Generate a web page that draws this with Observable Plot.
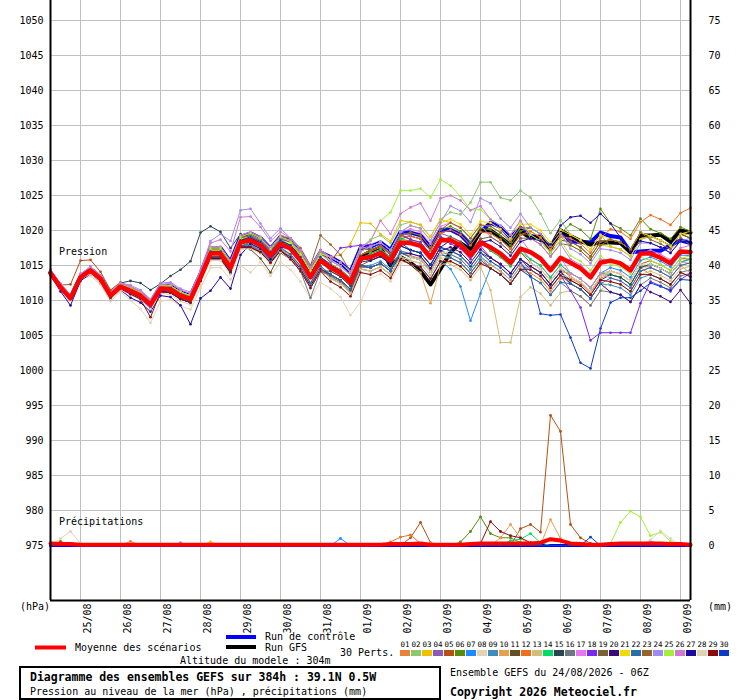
<!DOCTYPE html>
<html><head><meta charset="utf-8">
<script src="https://cdn.jsdelivr.net/npm/d3@7"></script>
<script src="https://cdn.jsdelivr.net/npm/@observablehq/plot@0.6"></script>
<style>body{margin:0;background:#fff}svg{font-family:"DejaVu Sans Mono",monospace}</style>
</head><body><div id="chart"></div>
<script>
// ---- time axis (hours after run 24/08/2026 06Z, 6-hourly) ----
const hours = d3.range(0, 385, 6);
const dayHours = [18,42,66,90,114,138,162,186,210,234,258,282,306,330,354,378];
const dayLabels = ["25/08","26/08","27/08","28/08","29/08","30/08","31/08","01/09","02/09","03/09","04/09","05/09","06/09","07/09","08/09","09/09"];
const pressureTicks = [975,980,985,990,995,1000,1005,1010,1015,1020,1025,1030,1035,1040,1045,1050];
const memberColors = ["#e8823a","#8cc86e","#f0c000","#8c5ab4","#b45014","#5a8c0a","#1e8cff","#e6d2b4","#3c8cbe","#e6a050","#645028","#f06e1e","#d2be78","#00dc64","#284650","#6e7882","#e678f0","#7828f0","#786432","#3c0a78","#f0dc00","#286eaa","#966428","#a08cf0","#a0f03c","#d278d2","#1e0aa0","#e1d2b4","#8c0a0a","#0a3cc8"];

// ---- sea level pressure (hPa) ----
const meanP = [1013.9,1011.9,1010.3,1013.3,1014.3,1013.1,1010.7,1012.0,1011.4,1010.7,1009.4,1011.7,1011.6,1010.7,1010.2,1013.3,
1016.7,1016.7,1014.7,1018.3,1018.6,1017.9,1016.4,1018.1,1017.4,1015.7,1013.3,1015.7,1014.7,1013.9,1012.6,1016.0,
1016.2,1016.8,1015.7,1018.3,1018.2,1017.8,1016.1,1018.6,1018.6,1017.9,1016.4,1018.3,1017.6,1016.7,1015.4,1017.4,
1016.9,1016.0,1014.3,1016.1,1015.4,1014.6,1013.3,1015.4,1015.7,1015.3,1014.3,1016.7,1016.7,1016.1,1015.3,1017.0,1016.9];
const controlP = [1013.9,1011.9,1010.3,1013.3,1014.5,1013.3,1010.9,1012.2,1011.7,1011.0,1009.7,1012.0,1012.1,1011.2,1010.7,1013.8,
1017.5,1017.5,1015.5,1019.1,1019.6,1018.9,1017.4,1019.1,1018.6,1016.9,1014.5,1016.9,1016.2,1015.4,1014.1,1017.5,
1017.7,1018.3,1017.2,1019.8,1019.7,1019.3,1017.6,1020.1,1020.1,1019.4,1017.9,1019.8,1021.1,1020.5,1019.0,1020.4,
1019.2,1019.0,1017.6,1020.0,1018.4,1018.4,1018.3,1019.7,1019.2,1019.0,1016.9,1017.0,1017.1,1017.1,1017.9,1018.6,1018.2];
const gfsP = [1014.0,1012.0,1010.4,1013.4,1014.4,1013.2,1010.8,1012.1,1011.5,1010.8,1009.5,1011.8,1011.7,1010.8,1010.3,1013.4,
1016.9,1016.9,1014.9,1018.5,1018.8,1018.1,1016.6,1018.3,1017.6,1015.9,1013.5,1015.9,1014.9,1014.1,1012.8,1016.2,
1017.0,1017.5,1015.0,1016.2,1015.4,1014.2,1012.3,1014.5,1016.9,1018.2,1017.3,1020.0,1020.0,1019.0,1017.9,1019.9,
1018.9,1019.2,1017.4,1020.0,1019.2,1018.5,1018.0,1018.3,1018.3,1018.2,1016.9,1019.3,1019.3,1019.4,1018.4,1020.0,1019.7];

const p01 = [1013.9,1011.9,1010.3,1013.3,1014.1,1012.9,1010.5,1011.8,1011.1,1010.4,1009.1,1011.4,1011.1,1010.2,1009.7,1012.8,
1016.1,1016.1,1014.1,1017.7,1017.8,1017.1,1015.6,1017.3,1016.4,1014.7,1012.3,1014.7,1013.4,1012.6,1011.3,1014.7,
1014.7,1015.3,1014.2,1016.8,1016.4,1016.0,1014.3,1016.8,1016.6,1015.9,1014.4,1016.3,1014.6,1013.7,1012.4,1014.4,
1013.9,1013.0,1011.3,1013.1,1013.2,1012.4,1011.1,1013.2,1013.7,1013.3,1012.3,1014.7,1013.7,1013.1,1012.3,1014.0,1013.4];
const p02 = [1014.1,1012.1,1010.5,1013.5,1014.6,1013.4,1011.0,1012.3,1011.8,1011.1,1009.8,1012.1,1012.1,1011.2,1010.7,1013.8,
1017.5,1017.5,1015.5,1019.1,1019.6,1018.9,1017.4,1019.1,1018.6,1016.9,1014.5,1016.9,1016.2,1015.4,1014.1,1017.5,
1018.7,1019.3,1018.2,1020.8,1021.2,1020.8,1019.1,1021.6,1022.6,1022.3,1024.0,1026.9,1026.9,1024.7,1024.3,1025.7,
1024.7,1022.4,1019.6,1021.5,1019.4,1018.6,1017.3,1019.4,1017.7,1017.3,1016.3,1018.7,1019.2,1018.6,1017.8,1019.5,1018.9];
const p03 = [1014.2,1012.2,1010.6,1013.6,1014.6,1013.4,1011.0,1012.3,1011.9,1011.2,1009.9,1012.2,1012.1,1011.2,1010.7,1013.8,
1017.2,1017.2,1015.2,1018.8,1019.4,1018.7,1017.2,1018.9,1018.4,1016.7,1014.3,1016.7,1016.2,1016.5,1018.1,1021.1,
1021.0,1019.5,1018.5,1021.4,1021.2,1020.8,1019.1,1021.6,1021.1,1020.4,1018.9,1020.8,1020.6,1019.7,1018.4,1020.4,
1019.9,1019.0,1017.3,1019.1,1017.9,1017.1,1015.8,1017.9,1017.7,1017.3,1016.3,1018.7,1019.2,1018.6,1017.8,1019.5,1019.4];
const p04 = [1014.0,1012.0,1010.4,1013.4,1014.3,1013.1,1010.7,1012.0,1011.6,1010.9,1009.6,1011.9,1011.9,1011.0,1010.5,1013.6,
1017.2,1017.2,1015.2,1018.8,1019.3,1018.6,1017.1,1018.8,1018.4,1016.7,1014.3,1016.7,1015.7,1014.9,1013.6,1017.0,
1017.7,1018.3,1017.2,1019.8,1019.2,1018.8,1017.1,1019.6,1019.1,1018.4,1016.9,1018.8,1017.6,1016.7,1015.4,1017.4,
1015.9,1015.0,1013.3,1015.1,1013.9,1013.1,1011.8,1013.9,1013.7,1013.3,1012.3,1014.7,1015.2,1014.6,1013.8,1015.5,1015.9];
const p05 = [1014.2,1012.2,1012.3,1015.7,1015.8,1014.1,1011.5,1012.6,1011.9,1011.2,1009.9,1012.2,1012.1,1011.2,1010.7,1013.8,
1017.2,1017.2,1015.2,1018.8,1019.6,1018.9,1017.4,1019.1,1018.9,1017.2,1014.8,1017.2,1016.2,1015.4,1014.1,1017.5,
1017.2,1017.8,1016.7,1019.3,1018.7,1018.3,1016.6,1019.1,1018.6,1017.9,1016.4,1018.3,1017.1,1016.2,1014.9,1016.9,
1015.4,1014.5,1012.8,1014.6,1013.4,1012.6,1011.3,1013.4,1014.2,1013.8,1012.8,1015.2,1015.7,1015.1,1014.3,1016.0,1015.9];
const p06 = [1013.9,1011.9,1010.3,1013.3,1014.3,1013.1,1010.7,1012.0,1011.2,1010.5,1009.2,1011.5,1011.3,1010.4,1009.9,1013.0,
1016.2,1016.2,1014.2,1017.8,1018.3,1017.6,1016.1,1017.8,1017.4,1015.7,1013.3,1015.7,1015.2,1014.4,1013.1,1016.5,
1017.2,1017.8,1016.7,1019.3,1019.7,1019.3,1017.6,1020.1,1020.6,1019.9,1018.4,1020.3,1020.1,1019.2,1017.9,1019.9,
1020.4,1019.5,1017.8,1019.6,1020.9,1020.1,1018.8,1023.1,1021.0,1020.3,1019.3,1021.7,1020.2,1019.6,1018.8,1020.5,1019.9];
const p07 = [1013.9,1011.9,1010.3,1013.3,1014.1,1012.9,1010.5,1011.8,1011.1,1010.4,1009.1,1011.4,1011.1,1010.2,1009.7,1012.8,
1015.9,1015.9,1013.9,1017.5,1017.6,1016.9,1015.4,1017.1,1016.2,1014.5,1012.1,1014.5,1013.2,1012.4,1011.1,1014.5,
1014.2,1014.8,1013.7,1016.3,1015.2,1014.8,1013.1,1015.6,1014.5,1012.0,1007.1,1011.0,1014.6,1013.7,1012.4,1014.4,
1014.9,1014.0,1012.3,1014.1,1013.9,1013.1,1011.8,1013.9,1014.7,1014.3,1013.3,1015.7,1016.2,1015.6,1014.8,1016.5,1016.4];
const p08 = [1013.6,1011.6,1010.0,1013.0,1013.5,1012.3,1009.9,1011.2,1010.0,1008.8,1006.8,1009.9,1010.1,1009.2,1008.7,1011.8,
1014.7,1014.7,1013.0,1015.0,1014.0,1015.5,1013.5,1015.5,1014.4,1012.7,1010.3,1012.6,1011.7,1010.5,1007.9,1009.7,
1013.2,1013.8,1012.7,1015.3,1015.7,1015.3,1013.6,1016.1,1016.1,1015.4,1013.9,1015.8,1015.6,1014.7,1013.4,1015.4,
1015.4,1014.5,1012.8,1014.6,1013.9,1013.1,1011.8,1013.9,1013.7,1013.3,1012.3,1014.7,1014.7,1014.1,1013.3,1015.0,1014.9];
const p09 = [1013.9,1011.9,1010.3,1013.3,1014.4,1013.2,1010.8,1012.1,1011.4,1010.7,1009.4,1011.7,1011.4,1010.5,1010.0,1013.1,
1016.2,1016.2,1014.2,1017.8,1017.9,1017.2,1015.7,1017.4,1016.6,1014.9,1012.5,1014.9,1013.7,1012.9,1011.6,1015.0,
1015.0,1015.6,1014.5,1017.1,1016.7,1016.3,1014.6,1017.1,1016.6,1015.9,1014.4,1016.3,1015.1,1014.2,1012.9,1014.9,
1014.4,1013.5,1011.8,1013.6,1012.4,1011.6,1010.3,1012.4,1012.2,1011.8,1010.8,1013.2,1013.7,1013.1,1012.3,1014.0,1014.4];
const p10 = [1014.1,1012.1,1010.5,1013.5,1014.3,1013.1,1010.7,1012.0,1011.3,1010.6,1009.3,1011.6,1011.3,1010.4,1009.9,1013.0,
1016.1,1016.1,1014.1,1017.7,1017.6,1016.9,1015.4,1017.1,1016.2,1014.5,1012.1,1014.5,1013.2,1012.4,1011.1,1014.5,
1014.2,1014.8,1013.7,1016.3,1015.2,1014.0,1009.6,1015.0,1015.6,1014.9,1013.4,1015.3,1015.1,1014.2,1012.9,1014.9,
1014.9,1014.0,1012.3,1014.1,1013.9,1013.1,1011.8,1013.9,1014.2,1013.8,1012.8,1015.2,1014.7,1014.1,1013.3,1015.0,1013.9];
const p11 = [1013.9,1011.9,1010.3,1013.3,1014.5,1013.3,1010.9,1012.2,1011.7,1011.0,1009.7,1012.0,1011.6,1010.7,1010.2,1013.3,
1016.2,1016.2,1014.2,1017.8,1017.3,1016.0,1014.0,1016.8,1015.9,1014.2,1011.8,1014.2,1014.2,1013.4,1012.1,1015.5,
1016.7,1017.3,1016.2,1018.8,1019.2,1018.8,1017.1,1019.6,1020.1,1019.4,1017.9,1019.8,1019.6,1018.7,1017.4,1019.4,
1019.4,1018.5,1016.8,1018.6,1018.4,1017.6,1016.3,1018.4,1018.7,1018.3,1017.3,1019.7,1019.2,1018.6,1017.8,1019.5,1018.9];
const p12 = [1013.9,1011.9,1010.3,1013.3,1014.3,1013.1,1010.7,1012.0,1011.6,1010.9,1009.6,1011.9,1011.9,1011.0,1010.5,1013.6,
1016.9,1016.9,1014.9,1018.5,1018.6,1017.9,1016.4,1018.1,1017.7,1016.0,1013.6,1016.0,1015.2,1014.4,1013.1,1016.5,
1017.0,1017.6,1016.5,1019.1,1019.2,1018.8,1017.1,1019.6,1020.1,1019.4,1017.9,1019.8,1019.6,1018.7,1017.4,1019.4,
1019.9,1019.0,1017.3,1019.1,1018.9,1018.1,1016.8,1018.9,1020.2,1019.8,1018.8,1021.2,1022.2,1021.6,1020.8,1022.5,1023.2];
const p13 = [1013.9,1011.9,1010.3,1013.3,1014.0,1012.8,1010.4,1011.7,1010.9,1010.2,1008.9,1011.2,1011.1,1010.2,1009.7,1012.8,
1015.9,1015.9,1013.9,1017.5,1017.6,1016.9,1015.4,1017.1,1016.2,1014.5,1012.1,1014.5,1013.2,1012.4,1011.1,1014.5,
1014.2,1014.8,1013.7,1016.3,1015.7,1015.3,1013.6,1016.1,1015.1,1014.4,1012.9,1014.8,1011.5,1004.0,1004.0,1010.5,
1011.9,1011.0,1009.3,1011.1,1011.4,1010.6,1009.3,1011.4,1012.7,1012.3,1011.3,1013.7,1014.2,1013.6,1012.8,1014.5,1014.9];
const p14 = [1013.9,1011.9,1010.3,1013.3,1014.4,1013.2,1010.8,1012.1,1011.6,1010.9,1009.6,1011.9,1011.9,1011.0,1010.5,1013.6,
1017.2,1017.2,1015.2,1018.8,1019.1,1018.4,1016.9,1018.6,1017.7,1016.0,1013.6,1016.0,1014.7,1013.9,1012.6,1016.0,
1016.7,1017.3,1016.2,1018.8,1018.5,1018.1,1016.4,1018.9,1018.6,1017.9,1016.4,1018.3,1017.1,1016.2,1014.9,1016.9,
1015.9,1015.0,1013.3,1015.1,1013.9,1013.1,1011.8,1013.9,1013.7,1013.3,1012.3,1014.7,1015.2,1014.6,1013.8,1015.5,1015.9];
const p15 = [1014.2,1012.2,1010.6,1013.6,1014.8,1013.6,1011.2,1012.5,1012.8,1012.5,1011.5,1012.4,1013.5,1014.4,1015.6,1019.7,
1020.6,1019.8,1017.5,1019.5,1019.1,1018.4,1016.9,1018.6,1017.4,1015.7,1013.3,1015.7,1014.2,1013.4,1012.1,1015.5,
1015.7,1016.3,1015.2,1017.8,1017.2,1016.8,1015.1,1017.6,1017.1,1016.4,1014.9,1016.8,1016.1,1015.2,1013.9,1015.9,
1014.9,1014.0,1012.3,1014.1,1012.9,1012.1,1010.8,1012.9,1013.7,1013.3,1012.3,1014.7,1015.2,1014.6,1013.8,1015.5,1015.4];
const p16 = [1013.9,1011.9,1010.3,1013.3,1014.3,1013.1,1010.7,1012.0,1011.2,1010.5,1009.2,1011.5,1011.3,1010.4,1009.9,1013.0,
1016.2,1016.2,1014.2,1017.8,1017.8,1017.1,1015.6,1017.3,1015.9,1014.2,1010.4,1014.2,1013.5,1012.7,1011.4,1014.8,
1014.7,1015.3,1014.2,1016.8,1016.2,1015.8,1014.1,1016.6,1016.1,1015.4,1013.9,1015.8,1014.6,1013.7,1012.4,1014.4,
1013.4,1012.5,1010.8,1012.6,1011.4,1010.6,1009.3,1011.4,1011.2,1010.8,1009.8,1012.2,1013.2,1012.6,1011.8,1013.5,1013.9];
const p17 = [1014.4,1012.4,1010.8,1013.8,1014.8,1013.6,1011.2,1012.5,1012.0,1011.3,1010.0,1012.3,1012.4,1011.5,1011.0,1014.1,
1017.7,1017.7,1015.7,1019.3,1019.8,1019.1,1017.6,1019.3,1018.9,1017.2,1014.8,1017.2,1016.2,1015.4,1014.1,1017.5,
1017.7,1018.3,1017.2,1019.8,1020.2,1019.8,1018.1,1020.6,1021.1,1020.4,1018.9,1020.8,1019.1,1018.2,1016.9,1018.9,
1016.9,1016.0,1014.3,1016.1,1013.9,1013.1,1011.8,1013.9,1013.2,1012.8,1011.8,1014.2,1014.7,1014.1,1013.3,1015.0,1015.4];
const p18 = [1013.9,1011.9,1010.3,1013.3,1014.0,1012.8,1010.4,1011.7,1010.9,1010.2,1008.9,1011.2,1011.3,1010.4,1009.9,1013.0,
1016.7,1016.7,1014.7,1018.3,1019.1,1018.4,1016.9,1018.6,1018.4,1016.7,1014.3,1016.7,1015.5,1017.5,1017.7,1017.9,
1018.0,1017.9,1016.5,1019.5,1018.7,1018.3,1016.6,1019.1,1018.1,1017.4,1015.9,1017.8,1016.1,1015.2,1013.9,1015.9,
1014.4,1013.5,1011.8,1013.6,1011.4,1009.0,1004.3,1005.4,1005.4,1005.4,1005.4,1009.6,1012.7,1012.1,1011.3,1013.0,1013.9];
const p19 = [1013.9,1011.9,1010.3,1013.3,1014.3,1013.1,1010.7,1012.0,1011.2,1010.5,1009.2,1011.5,1011.1,1010.2,1009.7,1012.8,
1015.9,1015.9,1013.9,1017.5,1017.6,1016.9,1015.4,1017.1,1015.9,1014.2,1011.8,1014.2,1013.7,1012.9,1011.6,1015.0,
1015.7,1016.3,1015.2,1017.8,1018.2,1017.8,1016.1,1018.6,1019.1,1018.4,1016.9,1018.8,1019.1,1018.2,1016.9,1018.9,
1018.9,1018.0,1016.3,1018.1,1017.9,1017.1,1015.8,1017.9,1018.7,1018.3,1017.3,1019.7,1019.2,1018.6,1017.8,1019.5,1018.9];
const p20 = [1013.9,1011.9,1010.3,1013.3,1014.1,1012.9,1010.5,1011.8,1011.1,1010.4,1009.1,1011.4,1011.1,1010.2,1009.7,1012.8,
1016.0,1016.0,1014.0,1017.6,1017.6,1016.9,1015.4,1017.1,1016.2,1014.5,1012.1,1014.5,1013.7,1012.9,1011.6,1015.0,
1014.7,1015.3,1014.2,1016.8,1016.7,1016.3,1014.6,1017.1,1017.6,1016.9,1015.4,1017.3,1016.1,1015.2,1013.9,1015.9,
1014.9,1014.0,1012.3,1014.1,1012.4,1011.6,1010.3,1012.4,1011.2,1010.8,1009.8,1012.2,1011.2,1010.6,1009.8,1011.5,1009.6];
const p21 = [1013.9,1011.9,1010.3,1013.3,1014.5,1013.3,1010.9,1012.2,1011.7,1011.0,1009.7,1012.0,1012.1,1011.2,1010.7,1013.8,
1017.2,1017.2,1015.2,1018.8,1019.1,1018.4,1016.9,1018.6,1018.2,1016.5,1014.1,1016.5,1015.7,1014.9,1013.6,1017.0,
1017.7,1018.3,1017.2,1019.8,1020.7,1020.3,1018.6,1021.1,1021.6,1020.9,1019.4,1021.3,1021.1,1020.2,1018.9,1020.9,
1020.9,1020.0,1018.3,1020.1,1019.4,1018.6,1017.3,1019.4,1018.7,1018.3,1017.3,1019.7,1019.2,1018.6,1017.8,1019.5,1019.9];
const p22 = [1013.9,1011.9,1010.3,1013.3,1014.3,1013.1,1010.7,1012.0,1011.2,1010.5,1009.2,1011.5,1011.3,1010.4,1009.9,1013.0,
1016.2,1016.2,1014.2,1017.8,1018.1,1017.4,1015.9,1017.6,1016.6,1014.9,1012.5,1014.9,1013.7,1012.9,1011.6,1015.0,
1014.7,1015.3,1014.2,1016.8,1016.2,1015.8,1014.1,1016.6,1016.1,1015.4,1013.9,1015.8,1014.6,1013.7,1012.4,1014.4,
1013.4,1012.5,1010.8,1012.6,1012.4,1011.6,1010.3,1012.4,1013.2,1012.8,1011.8,1014.2,1014.7,1014.1,1013.3,1015.0,1015.4];
const p23 = [1014.2,1012.2,1010.6,1013.6,1014.5,1013.3,1010.9,1012.2,1011.7,1011.0,1009.7,1012.0,1012.1,1011.2,1010.7,1013.8,
1017.5,1017.5,1015.5,1019.1,1019.6,1018.9,1017.4,1019.1,1018.9,1017.5,1015.0,1019.3,1018.0,1016.5,1014.1,1017.5,
1017.2,1017.8,1016.7,1019.3,1019.7,1019.3,1017.6,1020.1,1021.1,1020.4,1018.9,1020.8,1020.6,1019.7,1018.4,1020.4,
1020.4,1019.5,1017.8,1019.6,1018.4,1017.6,1016.3,1018.4,1018.7,1018.3,1017.3,1019.7,1018.7,1018.1,1017.3,1019.0,1017.9];
const p24 = [1014.4,1012.4,1010.8,1013.8,1014.8,1013.6,1011.2,1012.5,1012.2,1011.5,1010.2,1012.5,1012.6,1011.7,1011.2,1014.3,
1018.5,1019.5,1018.5,1022.9,1023.1,1021.0,1018.9,1020.3,1018.9,1017.2,1014.8,1017.2,1015.7,1014.9,1013.6,1017.0,
1017.7,1018.3,1017.2,1019.8,1020.7,1020.3,1018.6,1021.1,1023.5,1022.8,1021.2,1024.6,1023.9,1021.7,1020.4,1022.4,
1020.4,1019.5,1017.8,1019.6,1017.4,1016.6,1015.3,1017.4,1017.2,1016.8,1015.8,1018.2,1018.2,1017.6,1016.8,1018.5,1018.9];
const p25 = [1014.1,1012.1,1010.5,1013.5,1014.6,1013.4,1011.0,1012.3,1011.8,1011.1,1009.8,1012.1,1012.1,1011.2,1010.7,1013.8,
1017.5,1017.5,1015.5,1019.1,1019.6,1018.9,1017.4,1019.1,1018.4,1016.7,1014.3,1016.7,1016.2,1015.4,1014.1,1017.5,
1018.5,1021.4,1022.6,1025.7,1025.7,1026.0,1024.7,1027.3,1026.4,1024.9,1022.9,1023.0,1021.6,1020.7,1019.4,1021.4,
1019.4,1018.5,1016.8,1018.6,1016.4,1015.6,1014.3,1016.4,1015.2,1014.8,1013.8,1016.2,1015.7,1015.1,1014.3,1016.0,1016.4];
const p26 = [1014.4,1012.4,1010.8,1013.8,1014.8,1013.6,1011.2,1012.5,1012.0,1011.3,1010.0,1012.3,1012.4,1011.5,1011.0,1014.1,
1018.2,1018.7,1017.0,1021.9,1022.0,1020.5,1018.5,1019.8,1018.9,1017.2,1014.8,1017.2,1016.2,1015.4,1014.1,1017.5,
1018.5,1021.4,1019.5,1022.4,1023.3,1023.9,1021.4,1024.6,1025.0,1024.3,1022.9,1023.5,1021.6,1020.7,1019.4,1021.4,
1018.9,1018.0,1016.3,1018.1,1015.9,1015.1,1013.8,1015.9,1015.7,1015.3,1014.3,1016.7,1017.2,1016.6,1015.8,1017.5,1017.9];
const p27 = [1013.6,1011.3,1009.3,1012.8,1013.8,1012.6,1010.2,1011.5,1010.4,1009.7,1008.4,1010.7,1010.5,1009.3,1006.6,1010.3,
1011.4,1013.3,1011.7,1016.5,1018.1,1017.4,1015.9,1017.6,1017.4,1015.7,1013.3,1015.7,1014.7,1013.9,1012.6,1016.0,
1015.7,1016.3,1015.2,1017.8,1017.2,1016.8,1015.1,1017.6,1018.6,1017.9,1016.4,1018.3,1018.6,1017.7,1016.4,1018.4,
1018.9,1018.5,1018.0,1020.7,1021.9,1022.1,1021.1,1022.4,1021.0,1019.0,1017.0,1018.5,1018.2,1017.6,1016.8,1018.5,1018.4];
const p28 = [1013.7,1011.7,1010.1,1013.1,1013.8,1012.6,1010.2,1011.5,1010.8,1010.1,1008.8,1011.1,1010.8,1009.9,1009.4,1012.5,
1015.7,1015.7,1013.7,1017.3,1017.4,1016.7,1015.2,1016.9,1015.9,1014.2,1011.8,1014.2,1012.7,1011.9,1010.6,1014.0,
1013.7,1014.3,1013.2,1015.8,1016.2,1015.8,1014.1,1016.6,1017.1,1016.4,1014.9,1016.8,1015.6,1014.7,1013.4,1015.4,
1014.4,1013.5,1011.8,1013.6,1013.4,1012.6,1011.3,1013.4,1014.2,1013.8,1012.8,1015.2,1015.2,1014.6,1013.8,1015.5,1015.4];
const p29 = [1013.9,1011.9,1010.3,1013.3,1014.0,1012.8,1010.4,1011.7,1010.9,1010.2,1007.6,1011.2,1011.1,1010.2,1009.7,1012.8,
1016.2,1016.2,1014.2,1017.8,1017.6,1016.9,1015.4,1017.1,1015.9,1014.2,1011.8,1014.2,1012.7,1011.9,1010.6,1014.0,
1013.7,1014.3,1013.2,1015.8,1015.2,1014.8,1013.1,1015.6,1015.6,1014.9,1013.4,1015.3,1014.6,1013.7,1012.4,1014.4,
1014.4,1013.5,1011.8,1013.6,1012.9,1012.1,1010.8,1012.9,1012.7,1012.3,1011.3,1013.7,1013.7,1013.1,1012.3,1014.0,1013.4];
const p30 = [1013.9,1011.9,1010.3,1013.3,1014.3,1013.1,1010.7,1012.0,1011.4,1010.7,1009.4,1011.7,1011.8,1010.9,1010.4,1013.5,
1017.0,1017.0,1015.0,1018.6,1019.1,1018.4,1016.9,1018.6,1017.9,1016.2,1013.8,1016.2,1015.0,1014.2,1012.9,1016.3,
1016.2,1016.8,1015.7,1018.3,1017.2,1016.8,1015.1,1017.6,1017.1,1016.4,1014.9,1016.8,1015.6,1014.7,1013.4,1015.4,
1013.5,1008.1,1007.9,1008.0,1004.7,1001.1,1000.3,1006.0,1009.7,1010.4,1010.4,1011.4,1012.5,1012.0,1011.5,1013.0,1012.9];
const perts = [p01,p02,p03,p04,p05,p06,p07,p08,p09,p10,p11,p12,p13,p14,p15,p16,p17,p18,p19,p20,p21,p22,p23,p24,p25,p26,p27,p28,p29,p30];

// ---- precipitation (mm per 6h) ----
// [member number, time step index, mm]; all other steps are 0
const rainEvents = [
 [28,1,1.0],[28,2,2.0],[28,3,0.3],[5,1,0.6],[1,8,0.6],[24,13,0.4],[3,16,0.5],[7,29,1.0],
 [12,34,0.5],[12,35,1.2],[12,36,1.5],[12,37,0.3],[5,36,1.1],[5,37,3.3],[5,38,0.4],[21,38,0.3],
 [6,41,0.5],[6,42,2.0],[6,43,4.1],[6,44,1.7],[6,45,1.1],[6,46,1.1],[6,47,0.4],
 [29,43,0.3],[29,44,3.4],[29,45,2.0],[29,46,1.4],[29,47,1.1],[29,48,0.4],
 [10,45,1.1],[10,46,3.0],[10,47,1.1],[14,46,0.7],[14,47,0.9],[14,48,1.7],[14,49,0.4],
 [5,47,2.4],[5,48,3.0],[5,49,1.9],[5,50,18.6],[5,51,16.3],[5,52,3.0],[5,53,1.1],[5,54,0.3],
 [10,50,3.7],[10,51,1.0],[30,54,1.2],
 [25,56,0.3],[25,57,3.3],[25,58,4.9],[25,59,4.1],[25,60,1.4],[25,61,1.9],[25,62,0.6],[25,63,0.2],
 [28,60,0.8],[28,61,2.1],[28,62,1.0],[24,60,0.6],[24,61,0.3],[26,60,0.4]
];
const rainMean = [0.3,0.2,0.2,0.1,0.1,0.1,0.1,0.1,0.1,0.1,0.1,0.1,0.1,0.1,0.1,0.1,
0.1,0.1,0.1,0.1,0.1,0.1,0.1,0.1,0.1,0.1,0.1,0.1,0.1,0.1,0.1,0.1,
0.1,0.1,0.2,0.2,0.2,0.3,0.1,0.1,0.1,0.1,0.2,0.3,0.3,0.3,0.3,0.3,
0.3,0.4,0.9,0.7,0.3,0.2,0.1,0.1,0.2,0.3,0.3,0.3,0.3,0.3,0.2,0.2,0.1];
const rainControl = hours.map(() => 0);
const rainGfs = hours.map(() => 0);

// precipitation is drawn on the pressure scale: 0 mm at 975 hPa, 1 mm = 1 hPa
const RAIN_BASE = 975;

// ---- build tables ----
const pRows = [], rRows = [];
perts.forEach((arr, k) => {
  const rain = hours.map(() => 0);
  rainEvents.filter(e => e[0] === k + 1).forEach(e => { rain[e[1]] = e[2]; });
  arr.forEach((v, i) => {
    pRows.push({m: k, h: hours[i], v, c: memberColors[k]});
    rRows.push({m: k, h: hours[i], v: RAIN_BASE + rain[i], c: memberColors[k]});
  });
});
const series = a => a.map((v, i) => ({h: hours[i], v}));
const rainSeries = a => a.map((v, i) => ({h: hours[i], v: RAIN_BASE + v}));
const dayRows = dayHours.map((h, i) => ({h, label: dayLabels[i]}));

const yMin = 975 - 55 / 7, yMax = 1050 + 20 / 7;
const F = "DejaVu Sans Mono";

const svg = Plot.plot({
  width: 740, height: 700,
  marginLeft: 50, marginRight: 50, marginTop: 0, marginBottom: 100,
  x: {domain: [0, 384], axis: null},
  y: {domain: [yMin, yMax], axis: null},
  color: {type: "identity"},
  style: {fontFamily: F, fontSize: "10px", background: "#fff", color: "#000"},
  marks: [
    Plot.ruleY(pressureTicks, {stroke: "#c0c0c0", strokeWidth: 1}),
    Plot.ruleX(dayHours, {stroke: "#c0c0c0", strokeWidth: 1}),
    // precipitation
    Plot.line(rainSeries(rainControl), {x: "h", y: "v", stroke: "#0000ff", strokeWidth: 3}),
    Plot.line(rainSeries(rainGfs), {x: "h", y: "v", stroke: "#000", strokeWidth: 1}),
    Plot.line(rRows, {x: "h", y: "v", z: "m", stroke: "c", strokeWidth: 1}),
    Plot.dot(rRows.filter(d => d.v > RAIN_BASE), {x: "h", y: "v", fill: "c", r: 1.4}),
    Plot.line(rainSeries(rainMean), {x: "h", y: "v", stroke: "#ff0000", strokeWidth: 4}),
    // pressure: control and GFS underneath the members, mean on top
    Plot.line(series(controlP), {x: "h", y: "v", stroke: "#0000ff", strokeWidth: 4}),
    Plot.line(series(gfsP), {x: "h", y: "v", stroke: "#000", strokeWidth: 4}),
    Plot.line(pRows, {x: "h", y: "v", z: "m", stroke: "c", strokeWidth: 1}),
    Plot.dot(pRows, {x: "h", y: "v", fill: "c", r: 1.3}),
    Plot.line(series(meanP), {x: "h", y: "v", stroke: "#ff0000", strokeWidth: 4.5}),
    // frame
    Plot.ruleX([0, 384], {stroke: "#000", strokeWidth: 2}),
    Plot.ruleY([yMin], {stroke: "#000", strokeWidth: 2}),
    // axes
    Plot.axisY(pressureTicks, {anchor: "left", tickSize: 0, tickPadding: 7, label: null, fontSize: 10,
      tickFormat: d => String(d)}),
    Plot.axisY(pressureTicks, {anchor: "right", tickSize: 0, tickPadding: 18, label: null, fontSize: 10,
      tickFormat: d => String(d - RAIN_BASE)}),
    Plot.text(dayRows, {x: "h", text: "label", frameAnchor: "bottom", rotate: -90,
      textAnchor: "end", lineAnchor: "middle", dx: 7, dy: 3, fontSize: 10, fill: "#000"})
  ]
});
document.getElementById("chart").appendChild(svg);

// ---- annotations & legend ----
const s = d3.select(svg);
const txt = (x, y, t, opt = {}) => s.append("text").attr("x", x).attr("y", y).text(t)
  .attr("font-family", F).attr("font-size", opt.size || 10).attr("font-weight", opt.bold ? "bold" : null)
  .attr("text-anchor", opt.anchor || "start").attr("fill", "#000");
txt(59, 255, "Pression");
txt(59, 525, "Précipitations");
txt(20, 610, "(hPa)");
txt(708, 610, "(mm)");
s.append("line").attr("x1", 35).attr("x2", 66).attr("y1", 647.5).attr("y2", 647.5).attr("stroke", "#ff0000").attr("stroke-width", 4);
txt(75, 651, "Moyenne des scénarios");
s.append("line").attr("x1", 226).attr("x2", 256).attr("y1", 637).attr("y2", 637).attr("stroke", "#0000ff").attr("stroke-width", 4);
txt(265, 640, "Run de contrôle");
s.append("line").attr("x1", 226).attr("x2", 256).attr("y1", 647).attr("y2", 647).attr("stroke", "#000").attr("stroke-width", 4);
txt(265, 651, "Run GFS");
txt(340, 656, "30 Perts.");
memberColors.forEach((c, k) => {
  s.append("rect").attr("x", 400 + 11 * k).attr("y", 650).attr("width", 10).attr("height", 6).attr("fill", c);
  txt(405 + 11 * k, 647, String(k + 1).padStart(2, "0"), {size: 7.5, anchor: "middle"});
});
txt(180, 664, "Altitude du modele : 304m");
s.append("rect").attr("x", 20).attr("y", 667).attr("width", 420).attr("height", 32)
  .attr("fill", "none").attr("stroke", "#000").attr("stroke-width", 2);
txt(30, 681, "Diagramme des ensembles GEFS sur 384h : 39.1N 0.5W", {bold: true, size: 11.5});
txt(30, 695, "Pression au niveau de la mer (hPa) , précipitations (mm)");
txt(450, 676, "Ensemble GEFS du 24/08/2026 - 06Z");
txt(450, 696, "Copyright 2026 Meteociel.fr", {bold: true, size: 11.5});
</script>
</body></html>
